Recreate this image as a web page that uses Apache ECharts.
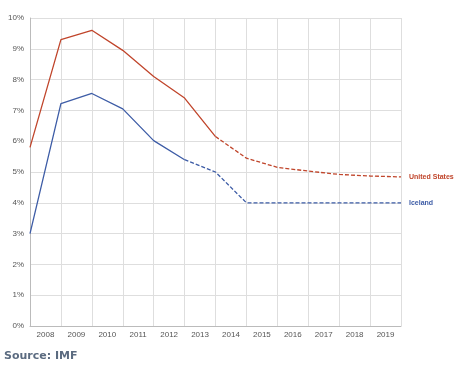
<!DOCTYPE html>
<html><head><meta charset="utf-8">
<script src="https://cdn.jsdelivr.net/npm/echarts@6/dist/echarts.min.js"></script>
<style>html,body{margin:0;padding:0;background:#fff}#c{width:458px;height:365px}</style>
</head><body><div id="c"></div>
<script>
const yearLabels = ['2008','2009','2010','2011','2012','2013','2014','2015','2016','2017','2018','2019'];
const pointYears = [2008,2009,2010,2011,2012,2013,2014,2015,2016,2017,2018,2019,2020];
const unitedStates = [5.8,9.3,9.6,8.95,8.1,7.4,6.15,5.45,5.15,5.03,4.92,4.87,4.84];
const iceland = [3.0,7.22,7.55,7.05,6.02,5.4,5.0,4.0,4.0,4.0,4.0,4.0,4.0];
const usForecastFrom = 6;
const icForecastFrom = 5;
const yTicks = [0,1,2,3,4,5,6,7,8,9,10];

const US_COLOR = '#c0452b', IC_COLOR = '#3d5ca6';
function pts(vals, from, to){ const r=[]; for(let i=from;i<=to;i++) r.push([pointYears[i], vals[i]]); return r; }
function line(name, vals, from, to, color, dashed, endLabel){
  return {
    name, type:'line', xAxisIndex:1, data: pts(vals, from, to), symbol:'none',
    lineStyle:{color, width:1.3, type: dashed ? [4,2] : 'solid'}, itemStyle:{color},
    silent:true, animation:false,
    endLabel: endLabel ? {show:true, formatter: name, color, fontSize:7, fontWeight:'bold', fontFamily:'Liberation Sans, Arial', distance:8} : {show:false}
  };
}
const chart = echarts.init(document.getElementById('c'));
chart.setOption({
  animation:false,
  grid:{left:30, top:18, right:57, bottom:39, containLabel:false},
  xAxis:[
    {type:'category', data:yearLabels, boundaryGap:true, position:'bottom',
     axisLine:{show:true, lineStyle:{color:'#bbb'}}, axisTick:{show:false},
     axisLabel:{color:'#555', fontSize:8, fontFamily:'Liberation Sans, Arial', margin:5},
     splitLine:{show:true, lineStyle:{color:'#dedede'}}},
    {type:'value', min:pointYears[0], max:pointYears[pointYears.length-1], show:false}
  ],
  yAxis:{type:'value', min:yTicks[0], max:yTicks[yTicks.length-1], interval:1,
    axisLine:{show:true, lineStyle:{color:'#bbb'}}, axisTick:{show:false},
    axisLabel:{formatter:'{value}%', color:'#555', fontSize:8, fontFamily:'Liberation Sans, Arial', margin:6},
    splitLine:{show:true, lineStyle:{color:'#dedede'}}},
  series:[
    line('United States', unitedStates, 0, usForecastFrom, US_COLOR, false, false),
    line('United States', unitedStates, usForecastFrom, unitedStates.length-1, US_COLOR, true, true),
    line('Iceland', iceland, 0, icForecastFrom, IC_COLOR, false, false),
    line('Iceland', iceland, icForecastFrom, iceland.length-1, IC_COLOR, true, true)
  ],
  graphic:[{type:'text', left:4, top:351, style:{text:'Source: IMF', fill:'#5b6b80', font:'bold 11px "DejaVu Sans", Verdana'}}]
});
</script></body></html>
